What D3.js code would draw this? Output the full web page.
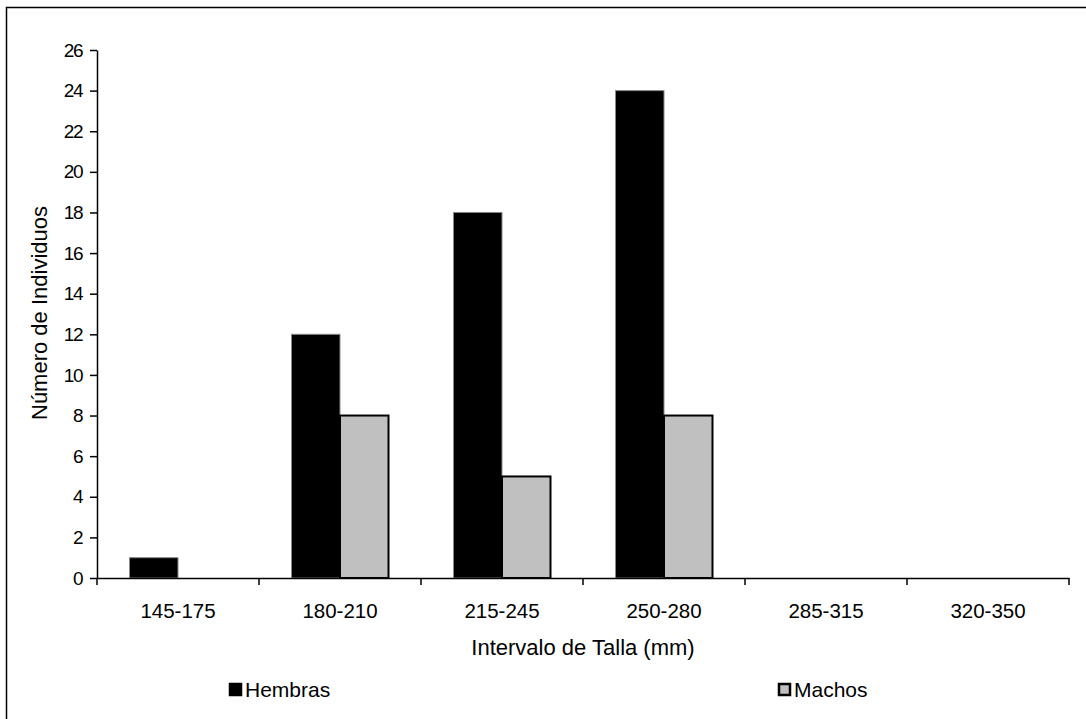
<!DOCTYPE html>
<html>
<head>
<meta charset="utf-8">
<script src="https://cdn.jsdelivr.net/npm/d3@7"></script>
<style>
  html, body { margin: 0; padding: 0; background: #fff; }
  svg { display: block; font-family: "Liberation Sans", Arial, sans-serif; }
</style>
</head>
<body>
<svg id="chart" width="1086" height="719"></svg>
<script>
// Size classes (mm) and counts per sex
const categories = ["145-175", "180-210", "215-245", "250-280", "285-315", "320-350"];
const hembras = [1, 12, 18, 24, 0, 0];
const machos  = [0, 8, 5, 8, 0, 0];
const yTicks = [0, 2, 4, 6, 8, 10, 12, 14, 16, 18, 20, 22, 24, 26];
const seriesNames = ["Hembras", "Machos"];

const svg = d3.select("#chart");

// outer frame (runs past the right and bottom edges)
svg.append("rect")
  .attr("x", 6.5).attr("y", 7.5)
  .attr("width", 1200).attr("height", 900)
  .attr("fill", "#fff").attr("stroke", "#000").attr("stroke-width", 1.5);

const plot = { left: 97, right: 1069, top: 50, bottom: 578 };

const x = d3.scaleBand().domain(categories).range([plot.left, plot.right]).padding(0);
const y = d3.scaleLinear().domain([0, 26]).range([plot.bottom, plot.top]);

const barW = 48.5;
const series = [
  { name: seriesNames[0], values: hembras, fill: "#000", stroke: "#888", sw: 1, offset: -barW },
  { name: seriesNames[1], values: machos, fill: "#c0c0c0", stroke: "#000", sw: 2, offset: 0 }
];

// bars
series.forEach(s => {
  svg.append("g").selectAll("rect")
    .data(categories.map((c, i) => ({ c, v: s.values[i] })).filter(d => d.v > 0))
    .join("rect")
    .attr("x", d => x(d.c) + x.bandwidth() / 2 + s.offset)
    .attr("y", d => y(d.v))
    .attr("width", barW)
    .attr("height", d => y(0) - y(d.v))
    .attr("fill", s.fill)
    .attr("stroke", s.stroke)
    .attr("stroke-width", s.sw);
});

// y axis
const yAxis = svg.append("g")
  .attr("transform", `translate(${plot.left},0)`)
  .call(d3.axisLeft(y).tickValues(yTicks).tickSize(7).tickSizeOuter(0).tickPadding(8));
yAxis.select(".domain").attr("stroke", "#000").attr("stroke-width", 1.5);
yAxis.selectAll(".tick line").attr("stroke", "#000").attr("stroke-width", 1.5);
yAxis.selectAll(".tick text").attr("font-size", 19).attr("fill", "#000")
  .attr("letter-spacing", -1.5)
  .attr("font-family", "Liberation Sans, Arial, sans-serif");

// x axis
const xAxis = svg.append("g")
  .attr("transform", `translate(0,${plot.bottom})`)
  .call(d3.axisBottom(x).tickSize(0).tickPadding(0));
xAxis.select(".domain").attr("stroke", "#000").attr("stroke-width", 1.5);
xAxis.selectAll(".tick text").remove();
// category boundary ticks
const bounds = categories.map(c => x(c)).concat([plot.right]);
svg.append("g").selectAll("line").data(bounds).join("line")
  .attr("x1", d => d).attr("x2", d => d)
  .attr("y1", plot.bottom).attr("y2", plot.bottom + 7)
  .attr("stroke", "#000").attr("stroke-width", 1.5);
svg.append("g").selectAll("text").data(categories).join("text")
  .attr("x", d => x(d) + x.bandwidth() / 2)
  .attr("y", plot.bottom + 40)
  .attr("text-anchor", "middle")
  .attr("font-size", 20.5)
  .text(d => d);

// axis titles
svg.append("text")
  .attr("x", (plot.left + plot.right) / 2).attr("y", 655)
  .attr("text-anchor", "middle").attr("font-size", 22)
  .text("Intervalo de Talla (mm)");
svg.append("text")
  .attr("transform", "translate(47,313) rotate(-90)")
  .attr("text-anchor", "middle").attr("font-size", 22)
  .text("Número de Individuos");

// legend
const legendPos = [229, 778];
series.forEach((s, i) => {
  const g = svg.append("g").attr("transform", `translate(${legendPos[i]},683)`);
  g.append("rect").attr("x", s.sw / 2).attr("y", s.sw / 2)
    .attr("width", 13 - s.sw).attr("height", 13 - s.sw)
    .attr("fill", s.fill).attr("stroke", "#000").attr("stroke-width", s.sw + 0.5);
  g.append("text").attr("x", 16).attr("y", 14).attr("font-size", 21).text(s.name);
});
</script>
</body>
</html>
